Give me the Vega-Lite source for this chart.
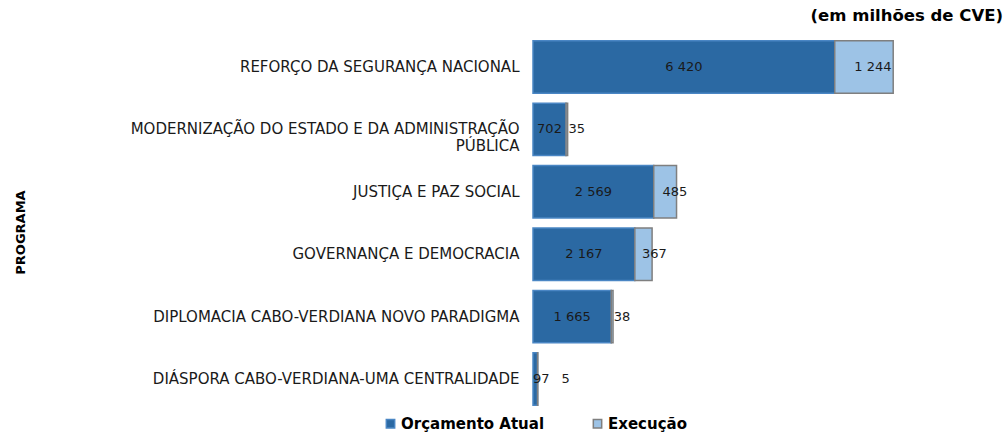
{
  "$schema": "https://vega.github.io/schema/vega-lite/v6.json",
  "autosize": {"type": "none"},
  "width": 470,
  "height": 372,
  "padding": {"left": 533, "top": 37, "right": 5, "bottom": 23},
  "config": {
    "locale": {"number": {"decimal": ",", "thousands": " ", "grouping": [3], "currency": ["", " CVE"]}},
    "view": {"stroke": null},
    "font": "DejaVu Sans"
  },
  "title": {"text": "(em milhões de CVE)", "anchor": "end", "fontSize": 16.5, "fontWeight": "bold", "font": "DejaVu Sans", "color": "#000000", "offset": 13},
  "data": {
    "values": [
      {"programa": "REFORÇO DA SEGURANÇA NACIONAL", "serie": "Orçamento Atual", "valor": 6420},
      {"programa": "REFORÇO DA SEGURANÇA NACIONAL", "serie": "Execução", "valor": 1244},
      {"programa": "MODERNIZAÇÃO DO ESTADO E DA ADMINISTRAÇÃO|PÚBLICA", "serie": "Orçamento Atual", "valor": 702},
      {"programa": "MODERNIZAÇÃO DO ESTADO E DA ADMINISTRAÇÃO|PÚBLICA", "serie": "Execução", "valor": 35},
      {"programa": "JUSTIÇA E PAZ SOCIAL", "serie": "Orçamento Atual", "valor": 2569},
      {"programa": "JUSTIÇA E PAZ SOCIAL", "serie": "Execução", "valor": 485},
      {"programa": "GOVERNANÇA E DEMOCRACIA", "serie": "Orçamento Atual", "valor": 2167},
      {"programa": "GOVERNANÇA E DEMOCRACIA", "serie": "Execução", "valor": 367},
      {"programa": "DIPLOMACIA CABO-VERDIANA NOVO PARADIGMA", "serie": "Orçamento Atual", "valor": 1665},
      {"programa": "DIPLOMACIA CABO-VERDIANA NOVO PARADIGMA", "serie": "Execução", "valor": 38},
      {"programa": "DIÁSPORA CABO-VERDIANA-UMA CENTRALIDADE", "serie": "Orçamento Atual", "valor": 97},
      {"programa": "DIÁSPORA CABO-VERDIANA-UMA CENTRALIDADE", "serie": "Execução", "valor": 5}
    ]
  },
  "encoding": {
    "y": {
      "field": "programa",
      "type": "nominal",
      "sort": null,
      "scale": {"paddingInner": 0.16, "paddingOuter": 0.06},
      "axis": {
        "title": "PROGRAMA",
        "titleFont": "DejaVu Sans",
        "titleFontSize": 13,
        "titleFontWeight": "bold",
        "titleColor": "#000000",
        "titleX": -513,
        "titleY": 195,
        "titleAngle": -90,
        "titleAlign": "center",
        "titleBaseline": "middle",
        "labelFont": "DejaVu Sans",
        "labelFontSize": 15,
        "labelColor": "#1a1a1a",
        "labelPadding": 14,
        "labelLimit": 520,
        "labelLineHeight": 17,
        "labelExpr": "split(datum.label, '|')",
        "ticks": false,
        "domain": false,
        "grid": false
      }
    }
  },
  "layer": [
    {
      "mark": {"type": "bar", "strokeWidth": 1.5},
      "encoding": {
        "x": {"field": "valor", "type": "quantitative", "stack": "zero", "scale": {"domain": [0, 10000]}, "axis": null},
        "order": {"field": "serie", "sort": "descending"},
        "color": {
          "field": "serie",
          "type": "nominal",
          "scale": {"domain": ["Orçamento Atual", "Execução"], "range": ["#2B69A3", "#9DC3E6"]},
          "legend": {
            "orient": "none",
            "legendX": -150,
            "legendY": 379,
            "direction": "horizontal",
            "title": null,
            "symbolType": "square",
            "symbolSize": 70,
            "symbolStrokeWidth": 1.5,
            "labelFont": "DejaVu Sans",
            "labelFontSize": 15,
            "labelFontWeight": "bold",
            "labelColor": "#000000",
            "columnPadding": 45,
            "labelOffset": 3,
            "labelLimit": 300
          }
        },
        "stroke": {
          "field": "serie",
          "type": "nominal",
          "scale": {"domain": ["Orçamento Atual", "Execução"], "range": ["#4A86C4", "#7F7F7F"]},
          "legend": {
            "orient": "none",
            "legendX": -150,
            "legendY": 379,
            "direction": "horizontal",
            "title": null,
            "symbolType": "square",
            "symbolSize": 70,
            "symbolStrokeWidth": 1.5,
            "labelFont": "DejaVu Sans",
            "labelFontSize": 15,
            "labelFontWeight": "bold",
            "labelColor": "#000000",
            "columnPadding": 45,
            "labelOffset": 3,
            "labelLimit": 300
          }
        }
      }
    },
    {
      "mark": {"type": "text", "fontSize": 13, "font": "DejaVu Sans", "color": "#1a1a1a", "align": "center", "baseline": "middle"},
      "encoding": {
        "x": {"field": "valor", "type": "quantitative", "stack": "zero", "bandPosition": 0.5},
        "order": {"field": "serie", "sort": "descending"},
        "detail": {"field": "serie", "type": "nominal"},
        "text": {"condition": {"test": "datum.serie === 'Orçamento Atual' && datum.valor >= 500", "field": "valor", "type": "quantitative", "format": ",d"}, "value": ""}
      }
    },
    {
      "mark": {"type": "text", "fontSize": 13, "font": "DejaVu Sans", "color": "#1a1a1a", "align": "left", "baseline": "middle", "dx": 0},
      "encoding": {
        "x": {"field": "valor", "type": "quantitative", "stack": "zero", "bandPosition": 0},
        "order": {"field": "serie", "sort": "descending"},
        "detail": {"field": "serie", "type": "nominal"},
        "text": {"condition": {"test": "datum.serie === 'Orçamento Atual' && datum.valor < 500", "field": "valor", "type": "quantitative", "format": ",d"}, "value": ""}
      }
    },
    {
      "mark": {"type": "text", "fontSize": 13, "font": "DejaVu Sans", "color": "#1a1a1a", "align": "left", "baseline": "middle", "dx": 2},
      "encoding": {
        "x": {"field": "valor", "type": "quantitative", "stack": "zero", "bandPosition": 0.3},
        "order": {"field": "serie", "sort": "descending"},
        "detail": {"field": "serie", "type": "nominal"},
        "text": {"condition": {"test": "datum.serie === 'Execução' && datum.valor >= 20", "field": "valor", "type": "quantitative", "format": ",d"}, "value": ""}
      }
    },
    {
      "mark": {"type": "text", "fontSize": 13, "font": "DejaVu Sans", "color": "#1a1a1a", "align": "left", "baseline": "middle", "dx": 24},
      "encoding": {
        "x": {"field": "valor", "type": "quantitative", "stack": "zero", "bandPosition": 0},
        "order": {"field": "serie", "sort": "descending"},
        "detail": {"field": "serie", "type": "nominal"},
        "text": {"condition": {"test": "datum.serie === 'Execução' && datum.valor < 20", "field": "valor", "type": "quantitative", "format": ",d"}, "value": ""}
      }
    }
  ]
}
